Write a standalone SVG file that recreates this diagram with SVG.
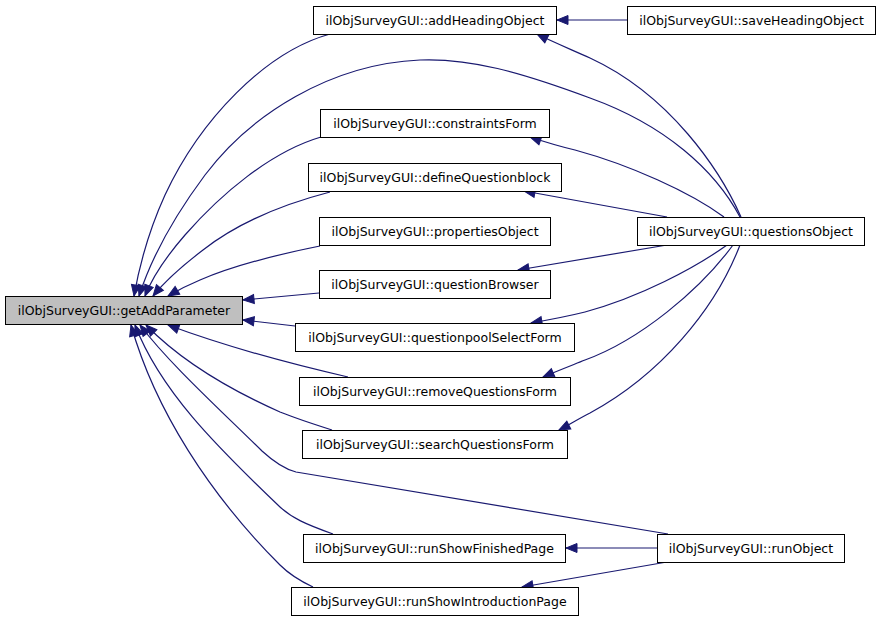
<svg xmlns="http://www.w3.org/2000/svg" width="880" height="621" viewBox="0 0 880 621">
<style>
.n rect{fill:#ffffff;stroke:#000000;stroke-width:1}
#getAddParameter rect{fill:#bfbfbf}
.n text{font-family:"DejaVu Sans",sans-serif;font-size:12.5px;text-anchor:middle;fill:#000000}
.e path{fill:none;stroke:#191970;stroke-width:1.2;marker-end:url(#ah)}
</style>
<defs>
<marker id="ah" markerWidth="13" markerHeight="10" refX="11" refY="4.5" orient="auto" markerUnits="userSpaceOnUse" overflow="visible">
<path d="M0,0 L11,4.5 L0,9 z" fill="#191970" stroke="#191970" stroke-width="1"/>
</marker>
</defs>
<rect x="0" y="0" width="880" height="621" fill="#ffffff"/>
<g id="connectors" class="e">
<path d="M330,34 C265,52 200,120 165,195 C150,228 140,262 134,296"/>
<path d="M740,217 C715,170 665,125 590,98 C520,72 470,58 420,60 C330,64 250,115 205,175 C170,222 150,262 139,296"/>
<path d="M321,137 C270,152 220,195 185,235 C165,258 152,278 145,296"/>
<path d="M330,192 C280,205 235,225 203,250 C182,266 166,280 153,296"/>
<path d="M320,246 C285,253 235,265 200,280 C188,285 178,290 168,296"/>
<path d="M319,293 L243,300"/>
<path d="M295,326 L243,320"/>
<path d="M348,377 C300,366 230,348 168,325"/>
<path d="M332,430 C310,423 295,418 280,412 C235,392 185,365 146,325"/>
<path d="M668,534 L296,472 C284,469 274,462 262,451 C215,405 168,362 140,325"/>
<path d="M333,534 C305,524 292,518 280,507 C215,445 160,390 135,325"/>
<path d="M313,587 C298,580 288,573 280,565 C210,495 155,410 131,325"/>
<path d="M741,217 C720,170 670,95 590,58 C570,49 553,42 537,34"/>
<path d="M724,217 C690,192 630,165 575,150 C558,146 545,142 530,137"/>
<path d="M667,217 L524,191"/>
<path d="M667,245 L518,270"/>
<path d="M727,245 C695,268 640,297 585,312 C565,317 548,320 531,323"/>
<path d="M733,245 C700,290 640,340 585,360 C570,366 557,371 543,377"/>
<path d="M740,245 C715,310 660,375 590,413 C578,419 569,425 559,430"/>
<path d="M627,20 L557,20"/>
<path d="M657,548 L566,548"/>
<path d="M667,562 L522,587"/>
</g>
<g id="getAddParameter" class="n"><rect x="5.5" y="296.5" width="237" height="28"/><text x="124" y="315">ilObjSurveyGUI::getAddParameter</text></g>
<g id="addHeadingObject" class="n"><rect x="313.5" y="6.5" width="243" height="28"/><text x="435" y="25">ilObjSurveyGUI::addHeadingObject</text></g>
<g id="saveHeadingObject" class="n"><rect x="627.5" y="6.5" width="248" height="28"/><text x="751.5" y="25">ilObjSurveyGUI::saveHeadingObject</text></g>
<g id="constraintsForm" class="n"><rect x="320.5" y="109.5" width="229" height="28"/><text x="435" y="128">ilObjSurveyGUI::constraintsForm</text></g>
<g id="defineQuestionblock" class="n"><rect x="308.5" y="163.5" width="253" height="28"/><text x="435" y="182">ilObjSurveyGUI::defineQuestionblock</text></g>
<g id="propertiesObject" class="n"><rect x="319.5" y="217.5" width="231" height="28"/><text x="435" y="236">ilObjSurveyGUI::propertiesObject</text></g>
<g id="questionsObject" class="n"><rect x="637.5" y="217.5" width="227" height="28"/><text x="751" y="236">ilObjSurveyGUI::questionsObject</text></g>
<g id="questionBrowser" class="n"><rect x="319.5" y="270.5" width="231" height="28"/><text x="435" y="289">ilObjSurveyGUI::questionBrowser</text></g>
<g id="questionpoolSelectForm" class="n"><rect x="295.5" y="323.5" width="279" height="28"/><text x="435" y="342">ilObjSurveyGUI::questionpoolSelectForm</text></g>
<g id="removeQuestionsForm" class="n"><rect x="299.5" y="377.5" width="271" height="28"/><text x="435" y="396">ilObjSurveyGUI::removeQuestionsForm</text></g>
<g id="searchQuestionsForm" class="n"><rect x="302.5" y="430.5" width="265" height="28"/><text x="435" y="449">ilObjSurveyGUI::searchQuestionsForm</text></g>
<g id="runShowFinishedPage" class="n"><rect x="303.5" y="534.5" width="262" height="28"/><text x="434.5" y="553">ilObjSurveyGUI::runShowFinishedPage</text></g>
<g id="runShowIntroductionPage" class="n"><rect x="291.5" y="587.5" width="287" height="28"/><text x="435" y="606">ilObjSurveyGUI::runShowIntroductionPage</text></g>
<g id="runObject" class="n"><rect x="657.5" y="534.5" width="187" height="28"/><text x="751" y="553">ilObjSurveyGUI::runObject</text></g>
</svg>
